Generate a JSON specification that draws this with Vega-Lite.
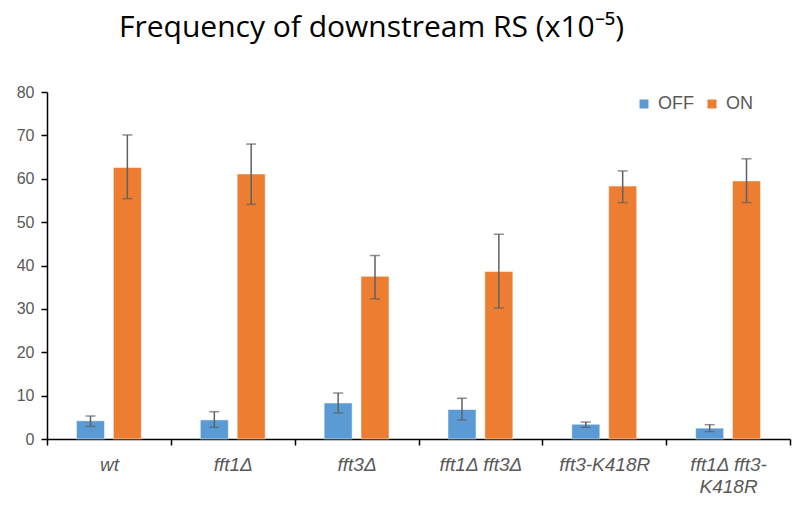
{
  "$schema": "https://vega.github.io/schema/vega-lite/v6.json",
  "autosize": {"type": "none"},
  "width": 743,
  "height": 347,
  "padding": {"left": 47, "top": 92, "right": 3, "bottom": 69},
  "background": "white",
  "title": {
    "text": "Frequency of downstream RS (x10⁻⁵)",
    "font": "Open Sans",
    "fontSize": 30,
    "fontWeight": "normal",
    "color": "#000000",
    "anchor": "middle",
    "dx": -47,
    "offset": 41
  },
  "config": {
    "view": {"stroke": null},
    "font": "Liberation Sans"
  },
  "data": {
    "values": [
      {"g": "wt", "c": "OFF", "v": 4.2, "lo": 2.9, "hi": 5.3},
      {"g": "wt", "c": "ON", "v": 62.6, "lo": 55.4, "hi": 70.1},
      {"g": "fft1Δ", "c": "OFF", "v": 4.4, "lo": 2.7, "hi": 6.3},
      {"g": "fft1Δ", "c": "ON", "v": 61.1, "lo": 54.1, "hi": 68.0},
      {"g": "fft3Δ", "c": "OFF", "v": 8.3, "lo": 6.0, "hi": 10.6},
      {"g": "fft3Δ", "c": "ON", "v": 37.5, "lo": 32.3, "hi": 42.3},
      {"g": "fft1Δ fft3Δ", "c": "OFF", "v": 6.8, "lo": 4.4, "hi": 9.4},
      {"g": "fft1Δ fft3Δ", "c": "ON", "v": 38.6, "lo": 30.2, "hi": 47.2},
      {"g": "fft3-K418R", "c": "OFF", "v": 3.4, "lo": 2.7, "hi": 3.9},
      {"g": "fft3-K418R", "c": "ON", "v": 58.3, "lo": 54.5, "hi": 61.8},
      {"g": "fft1Δ fft3-K418R", "c": "OFF", "v": 2.5, "lo": 1.7, "hi": 3.3},
      {"g": "fft1Δ fft3-K418R", "c": "ON", "v": 59.5, "lo": 54.5, "hi": 64.6}
    ]
  },
  "encoding": {
    "x": {
      "field": "g",
      "type": "nominal",
      "sort": ["wt", "fft1Δ", "fft3Δ", "fft1Δ fft3Δ", "fft3-K418R", "fft1Δ fft3-K418R"],
      "scale": {"paddingInner": 0, "paddingOuter": 0},
      "axis": {
        "title": null,
        "labelAngle": 0,
        "tickBand": "extent",
        "domainColor": "#000000",
        "domainWidth": 1.5,
        "tickColor": "#000000",
        "tickWidth": 1.5,
        "tickSize": 6,
        "labelFontStyle": "italic",
        "labelColor": "#595959",
        "labelFontSize": 19,
        "labelFont": "Liberation Sans",
        "labelPadding": 10,
        "labelLimit": 300,
        "labelLineHeight": 22,
        "labelExpr": "datum.label == 'fft1Δ fft3-K418R' ? ['fft1Δ fft3-', 'K418R'] : datum.label"
      }
    },
    "xOffset": {
      "field": "c",
      "type": "nominal",
      "sort": ["OFF", "ON"],
      "scale": {"paddingInner": 0.24, "paddingOuter": 0.8}
    }
  },
  "layer": [
    {
      "mark": {"type": "bar", "stroke": "white", "strokeWidth": 0.5},
      "encoding": {
        "y": {
          "field": "v",
          "type": "quantitative",
          "scale": {"domain": [0, 80], "nice": false},
          "axis": {
            "title": null,
            "values": [0, 10, 20, 30, 40, 50, 60, 70, 80],
            "grid": false,
            "domainColor": "#000000",
            "domainWidth": 1.5,
            "tickColor": "#000000",
            "tickWidth": 1.5,
            "tickSize": 6,
            "labelColor": "#595959",
            "labelFontSize": 16,
            "labelFont": "Liberation Sans",
            "labelPadding": 7
          }
        },
        "color": {
          "field": "c",
          "type": "nominal",
          "sort": ["OFF", "ON"],
          "scale": {"domain": ["OFF", "ON"], "range": ["#5B9BD5", "#ED7D31"]},
          "legend": {
            "title": null,
            "orient": "none",
            "direction": "horizontal",
            "legendX": 588,
            "legendY": 3,
            "symbolType": "square",
            "symbolSize": 81,
            "symbolStrokeWidth": 0,
            "labelColor": "#595959",
            "labelFontSize": 18,
            "labelFont": "Liberation Sans",
            "labelOffset": 5,
            "columnPadding": 9
          }
        }
      }
    },
    {
      "mark": {"type": "rule", "color": "#606060", "strokeWidth": 1.5},
      "encoding": {
        "y": {"field": "lo", "type": "quantitative"},
        "y2": {"field": "hi"}
      }
    },
    {
      "mark": {"type": "tick", "color": "#606060", "thickness": 1.5, "size": 10, "orient": "horizontal"},
      "encoding": {
        "y": {"field": "lo", "type": "quantitative"}
      }
    },
    {
      "mark": {"type": "tick", "color": "#606060", "thickness": 1.5, "size": 10, "orient": "horizontal"},
      "encoding": {
        "y": {"field": "hi", "type": "quantitative"}
      }
    }
  ]
}
